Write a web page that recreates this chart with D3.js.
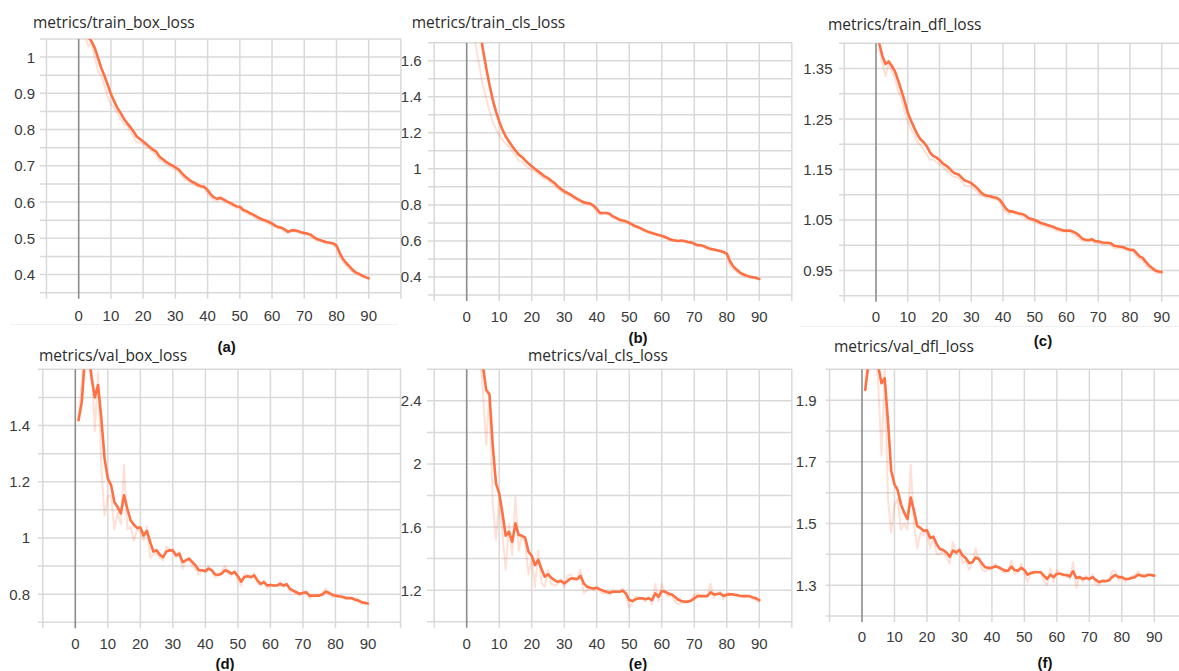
<!DOCTYPE html>
<html>
<head>
<meta charset="utf-8">
<script src="https://cdn.jsdelivr.net/npm/d3@7"></script>
<style>
  html, body { margin: 0; padding: 0; background: #fff; }
  svg { display: block; }
</style>
</head>
<body>
<svg id="chart" width="1179" height="671"></svg>
<script>
// ---------------- DATA (epochs 1..90) ----------------
const xTickLabels = [0, 10, 20, 30, 40, 50, 60, 70, 80, 90];

const trainBoxSmoothed = [1.20,1.10,1.055,1.043,1.025,0.997,0.970,0.948,0.924,0.898,0.878,0.860,0.846,0.830,0.818,0.807,0.795,0.781,0.774,0.767,0.760,0.752,0.745,0.740,0.726,0.719,0.712,0.706,0.701,0.696,0.690,0.680,0.671,0.664,0.657,0.653,0.647,0.644,0.642,0.633,0.621,0.613,0.609,0.612,0.607,0.602,0.598,0.593,0.588,0.587,0.579,0.575,0.570,0.566,0.561,0.556,0.552,0.549,0.545,0.541,0.535,0.531,0.529,0.524,0.518,0.522,0.522,0.520,0.517,0.515,0.513,0.510,0.503,0.498,0.495,0.492,0.489,0.488,0.486,0.480,0.460,0.443,0.432,0.423,0.413,0.406,0.402,0.397,0.393,0.390];
const trainBoxRaw = [1.15,1.06,1.03,1.04,1.00,0.96,0.95,0.92,0.89,0.87,0.86,0.845,0.83,0.815,0.81,0.795,0.78,0.765,0.765,0.76,0.752,0.745,0.738,0.73,0.715,0.712,0.705,0.70,0.695,0.69,0.682,0.672,0.662,0.658,0.652,0.648,0.642,0.64,0.638,0.625,0.612,0.606,0.604,0.61,0.602,0.597,0.592,0.588,0.584,0.582,0.574,0.57,0.566,0.561,0.556,0.551,0.548,0.545,0.541,0.536,0.53,0.528,0.525,0.519,0.513,0.52,0.519,0.516,0.514,0.512,0.51,0.505,0.498,0.494,0.492,0.489,0.486,0.486,0.483,0.474,0.448,0.435,0.425,0.415,0.407,0.402,0.398,0.394,0.391,0.388];

const trainClsSmoothed = [2.30,2.05,1.90,1.78,1.661,1.560,1.467,1.384,1.319,1.263,1.217,1.180,1.152,1.125,1.102,1.079,1.066,1.047,1.029,1.014,0.999,0.986,0.972,0.958,0.949,0.934,0.922,0.903,0.888,0.875,0.866,0.857,0.844,0.833,0.824,0.814,0.811,0.807,0.796,0.778,0.755,0.755,0.755,0.751,0.736,0.728,0.718,0.713,0.709,0.700,0.690,0.681,0.675,0.666,0.657,0.649,0.644,0.639,0.633,0.629,0.622,0.614,0.607,0.603,0.600,0.602,0.600,0.594,0.592,0.585,0.576,0.576,0.571,0.562,0.556,0.552,0.548,0.544,0.539,0.530,0.487,0.459,0.441,0.426,0.415,0.408,0.402,0.398,0.395,0.389];
const trainClsRaw = [1.95,1.78,1.66,1.56,1.46,1.39,1.32,1.26,1.22,1.19,1.16,1.14,1.12,1.10,1.075,1.045,1.04,1.02,1.005,0.995,0.985,0.972,0.958,0.944,0.938,0.92,0.905,0.888,0.876,0.864,0.857,0.848,0.834,0.825,0.815,0.806,0.806,0.802,0.788,0.762,0.745,0.752,0.752,0.744,0.728,0.72,0.711,0.707,0.703,0.693,0.683,0.674,0.669,0.659,0.65,0.644,0.64,0.634,0.628,0.624,0.616,0.607,0.602,0.599,0.597,0.6,0.596,0.59,0.587,0.578,0.572,0.573,0.566,0.556,0.551,0.548,0.544,0.54,0.534,0.52,0.46,0.442,0.428,0.416,0.408,0.403,0.398,0.395,0.392,0.387];

const trainDflSmoothed = [1.400,1.375,1.359,1.364,1.355,1.344,1.326,1.306,1.286,1.263,1.247,1.233,1.220,1.210,1.204,1.196,1.184,1.177,1.174,1.169,1.162,1.158,1.153,1.146,1.142,1.140,1.134,1.128,1.126,1.123,1.118,1.112,1.105,1.100,1.098,1.097,1.095,1.094,1.090,1.081,1.072,1.067,1.067,1.065,1.063,1.062,1.059,1.054,1.052,1.050,1.047,1.044,1.042,1.040,1.038,1.036,1.033,1.031,1.029,1.029,1.029,1.027,1.024,1.019,1.013,1.011,1.010,1.012,1.008,1.008,1.006,1.005,1.005,1.004,0.999,0.998,0.997,0.996,0.993,0.991,0.991,0.985,0.978,0.975,0.967,0.960,0.955,0.950,0.948,0.947];
const trainDflRaw = [1.39,1.36,1.335,1.36,1.345,1.33,1.305,1.29,1.265,1.245,1.23,1.22,1.205,1.198,1.19,1.18,1.17,1.17,1.165,1.16,1.155,1.15,1.143,1.137,1.135,1.133,1.127,1.118,1.117,1.117,1.11,1.105,1.098,1.096,1.094,1.093,1.092,1.09,1.085,1.072,1.064,1.062,1.064,1.062,1.06,1.058,1.054,1.05,1.048,1.046,1.043,1.04,1.038,1.036,1.034,1.032,1.029,1.027,1.027,1.027,1.027,1.023,1.019,1.013,1.008,1.008,1.007,1.01,1.004,1.005,1.003,1.002,1.002,1.001,0.994,0.995,0.994,0.993,0.99,0.988,0.989,0.978,0.972,0.97,0.96,0.954,0.951,0.946,0.945,0.944];

const valBoxSmoothed = [1.419,1.485,1.65,1.66,1.57,1.50,1.544,1.425,1.283,1.211,1.188,1.128,1.110,1.087,1.152,1.104,1.063,1.047,1.036,1.037,1.009,1.025,0.986,0.952,0.956,0.940,0.932,0.952,0.956,0.956,0.938,0.944,0.914,0.920,0.926,0.914,0.902,0.885,0.885,0.882,0.891,0.885,0.870,0.869,0.873,0.885,0.881,0.873,0.879,0.864,0.845,0.861,0.864,0.861,0.867,0.849,0.837,0.843,0.831,0.833,0.831,0.831,0.837,0.831,0.835,0.819,0.813,0.807,0.801,0.804,0.807,0.795,0.795,0.795,0.795,0.799,0.809,0.805,0.798,0.795,0.793,0.791,0.787,0.786,0.786,0.781,0.778,0.772,0.769,0.767];
const valBoxRaw = [1.42,1.55,1.75,1.70,1.62,1.38,1.59,1.25,1.08,1.15,1.15,1.03,1.09,1.05,1.26,1.03,1.04,0.99,1.03,1.02,0.99,1.04,0.93,0.94,0.95,0.93,0.92,0.97,0.96,0.95,0.93,0.95,0.89,0.92,0.93,0.90,0.89,0.87,0.885,0.88,0.90,0.88,0.86,0.865,0.88,0.90,0.875,0.865,0.885,0.85,0.83,0.87,0.87,0.855,0.875,0.84,0.83,0.85,0.82,0.835,0.83,0.83,0.845,0.825,0.84,0.81,0.81,0.80,0.795,0.81,0.81,0.785,0.795,0.795,0.795,0.805,0.82,0.80,0.79,0.79,0.79,0.79,0.783,0.785,0.786,0.776,0.775,0.765,0.767,0.765];

const valClsSmoothed = [3.40,3.20,3.00,2.80,2.62,2.469,2.441,2.12,1.877,1.813,1.687,1.545,1.570,1.507,1.623,1.549,1.545,1.532,1.444,1.418,1.359,1.391,1.334,1.285,1.300,1.279,1.264,1.253,1.258,1.243,1.258,1.274,1.274,1.270,1.291,1.243,1.222,1.215,1.211,1.215,1.205,1.196,1.190,1.184,1.190,1.190,1.190,1.196,1.179,1.137,1.131,1.143,1.148,1.148,1.143,1.148,1.137,1.179,1.158,1.194,1.190,1.179,1.173,1.158,1.141,1.131,1.127,1.127,1.133,1.148,1.162,1.162,1.162,1.162,1.186,1.173,1.175,1.179,1.164,1.171,1.173,1.173,1.169,1.164,1.162,1.162,1.162,1.154,1.148,1.137];
const valClsRaw = [3.3,3.1,2.9,2.7,2.45,2.12,2.42,1.75,1.52,1.78,1.55,1.33,1.62,1.42,1.79,1.45,1.55,1.50,1.30,1.40,1.22,1.45,1.25,1.22,1.33,1.24,1.23,1.24,1.27,1.22,1.29,1.30,1.26,1.27,1.33,1.18,1.20,1.21,1.20,1.22,1.19,1.18,1.18,1.17,1.20,1.19,1.19,1.21,1.16,1.09,1.12,1.16,1.15,1.15,1.13,1.16,1.11,1.24,1.13,1.24,1.18,1.16,1.17,1.13,1.11,1.12,1.12,1.13,1.14,1.17,1.18,1.16,1.16,1.16,1.24,1.15,1.18,1.19,1.14,1.18,1.18,1.17,1.16,1.16,1.16,1.16,1.16,1.14,1.14,1.12];

const valDflSmoothed = [1.933,2.02,2.10,2.08,2.01,1.955,1.971,1.831,1.670,1.627,1.608,1.562,1.535,1.514,1.584,1.541,1.492,1.485,1.476,1.478,1.453,1.457,1.433,1.417,1.414,1.406,1.392,1.412,1.406,1.414,1.396,1.387,1.372,1.374,1.390,1.385,1.369,1.358,1.356,1.356,1.361,1.358,1.353,1.347,1.347,1.360,1.349,1.347,1.356,1.349,1.334,1.339,1.342,1.342,1.342,1.331,1.320,1.334,1.326,1.337,1.337,1.334,1.333,1.328,1.345,1.323,1.326,1.320,1.323,1.320,1.326,1.317,1.310,1.313,1.313,1.315,1.326,1.333,1.326,1.326,1.320,1.320,1.323,1.326,1.334,1.331,1.329,1.333,1.333,1.331];
const valDflRaw = [1.93,2.1,2.2,2.1,1.95,1.72,2.0,1.58,1.47,1.56,1.58,1.48,1.50,1.48,1.69,1.50,1.42,1.47,1.46,1.48,1.42,1.46,1.40,1.40,1.41,1.39,1.37,1.44,1.40,1.42,1.37,1.38,1.35,1.375,1.42,1.38,1.35,1.345,1.35,1.355,1.37,1.355,1.345,1.34,1.345,1.38,1.335,1.345,1.37,1.34,1.31,1.345,1.345,1.342,1.342,1.315,1.30,1.355,1.31,1.35,1.337,1.33,1.33,1.32,1.375,1.29,1.33,1.31,1.33,1.315,1.335,1.305,1.30,1.318,1.313,1.318,1.345,1.345,1.315,1.326,1.31,1.32,1.328,1.33,1.345,1.327,1.327,1.338,1.333,1.328];

const trainBoxYTicks = [0.4, 0.5, 0.6, 0.7, 0.8, 0.9, 1];
const trainClsYTicks = [0.4, 0.6, 0.8, 1, 1.2, 1.4, 1.6];
const trainDflYTicks = [0.95, 1.05, 1.15, 1.25, 1.35];
const valBoxYTicks = [0.8, 1, 1.2, 1.4];
const valClsYTicks = [1.2, 1.6, 2, 2.4];
const valDflYTicks = [1.3, 1.5, 1.7, 1.9];

// ---------------- LAYOUT ----------------
const panels = [
  { title: "metrics/train_box_loss", smooth: trainBoxSmoothed, raw: trainBoxRaw, yTicks: trainBoxYTicks,
    yDom: [0.35, 1.05], gridStep: 0.05, left: 40, right: 401, top: 39, bottom: 292.7, x0: 78.7, x90: 368.7,
    labelRight: 35, xLabelY: 315, titleX: 33, titleY: 22 },
  { title: "metrics/train_cls_loss", smooth: trainClsSmoothed, raw: trainClsRaw, yTicks: trainClsYTicks,
    yDom: [0.3, 1.7], gridStep: 0.1, left: 428, right: 792, top: 42.7, bottom: 295, x0: 466.7, x90: 759.3,
    labelRight: 421.7, xLabelY: 316.7, titleX: 411.7, titleY: 21.7 },
  { title: "metrics/train_dfl_loss", smooth: trainDflSmoothed, raw: trainDflRaw, yTicks: trainDflYTicks,
    yDom: [0.9, 1.4], gridStep: 0.05, left: 839, right: 1179, top: 43.3, bottom: 295.7, x0: 876, x90: 1161.7,
    labelRight: 832.5, xLabelY: 316.7, titleX: 828, titleY: 24 },
  { title: "metrics/val_box_loss", smooth: valBoxSmoothed, raw: valBoxRaw, yTicks: valBoxYTicks,
    yDom: [0.7, 1.6], gridStep: 0.1, left: 38, right: 401, top: 369.3, bottom: 622.3, x0: 75.3, x90: 368,
    labelRight: 30, xLabelY: 643.3, titleX: 39, titleY: 355 },
  { title: "metrics/val_cls_loss", smooth: valClsSmoothed, raw: valClsRaw, yTicks: valClsYTicks,
    yDom: [1.0, 2.6], gridStep: 0.2, left: 427, right: 792, top: 369.3, bottom: 621.7, x0: 466.7, x90: 759.3,
    labelRight: 421.7, xLabelY: 643.3, titleX: 528, titleY: 355 },
  { title: "metrics/val_dfl_loss", smooth: valDflSmoothed, raw: valDflRaw, yTicks: valDflYTicks,
    yDom: [1.2, 2.0], gridStep: 0.1, left: 826, right: 1179, top: 369.3, bottom: 616, x0: 862, x90: 1154.3,
    labelRight: 816.7, xLabelY: 636.7, titleX: 834, titleY: 346 }
];

const subLabels = [
  { text: "(a)", x: 226.7, y: 346 },
  { text: "(b)", x: 638, y: 337 },
  { text: "(c)", x: 1043, y: 340 },
  { text: "(d)", x: 225, y: 663 },
  { text: "(e)", x: 638, y: 663 },
  { text: "(f)", x: 1045, y: 662 }
];

const LINE = "#ff7043";
const GRID = "#d9d9d9";
const svg = d3.select("#chart");

// faint screenshot separators
svg.append("line").attr("x1", 10).attr("x2", 398).attr("y1", 324.5).attr("y2", 324.5).attr("stroke", "#efefef");
svg.append("line").attr("x1", 800).attr("x2", 1179).attr("y1", 326.5).attr("y2", 326.5).attr("stroke", "#efefef");

const fmt = v => String(+v.toFixed(2));

panels.forEach((p, i) => {
  const g = svg.append("g");
  const x = d3.scaleLinear().domain([0, 90]).range([p.x0, p.x90]);
  const y = d3.scaleLinear().domain(p.yDom).range([p.bottom, p.top]);

  // horizontal grid
  const nH = Math.round((p.yDom[1] - p.yDom[0]) / p.gridStep);
  const hVals = d3.range(nH + 1).map(k => +(p.yDom[0] + k * p.gridStep).toFixed(3));
  g.append("g").selectAll("line").data(hVals).join("line")
    .attr("x1", p.left).attr("x2", p.right)
    .attr("y1", d => y(d)).attr("y2", d => y(d))
    .attr("stroke", GRID).attr("stroke-width", 1.5);

  // vertical grid (-10 .. 100)
  const vVals = [-10, 0, 10, 20, 30, 40, 50, 60, 70, 80, 90, 100].filter(v => x(v) <= p.right + 1.5 && x(v) >= p.left);
  g.append("g").selectAll("line").data(vVals.filter(v => v !== 0)).join("line")
    .attr("x1", d => x(d)).attr("x2", d => x(d))
    .attr("y1", p.top).attr("y2", p.bottom + 6)
    .attr("stroke", GRID).attr("stroke-width", 1.5);
  // zero axis
  g.append("line").attr("x1", x(0)).attr("x2", x(0)).attr("y1", p.top).attr("y2", p.bottom + 6)
    .attr("stroke", "#8c8c8c").attr("stroke-width", 1.6);

  // y tick labels
  g.append("g").selectAll("text").data(p.yTicks).join("text")
    .attr("x", p.labelRight).attr("y", d => y(d))
    .attr("text-anchor", "end").attr("dominant-baseline", "central")
    .attr("font-family", "Liberation Sans, Arial, sans-serif").attr("font-size", 15)
    .attr("fill", "#3a3a3a").text(d => fmt(d));

  // x tick labels
  g.append("g").selectAll("text").data(xTickLabels).join("text")
    .attr("x", d => x(d)).attr("y", p.xLabelY)
    .attr("text-anchor", "middle").attr("dominant-baseline", "central")
    .attr("font-family", "Liberation Sans, Arial, sans-serif").attr("font-size", 15)
    .attr("fill", "#3a3a3a").text(d => d);

  // title
  g.append("text").attr("x", p.titleX).attr("y", p.titleY)
    .attr("dominant-baseline", "central")
    .attr("font-family", "Open Sans, sans-serif").attr("font-size", 15.5)
    .attr("fill", "#2a2a2a").text(p.title);

  // clip
  const cid = "clip" + i;
  svg.append("clipPath").attr("id", cid).append("rect")
    .attr("x", p.left).attr("y", p.top).attr("width", p.right - p.left).attr("height", p.bottom - p.top);

  const line = d3.line().x((d, k) => x(k + 1)).y(d => y(d));
  const lg = g.append("g").attr("clip-path", `url(#${cid})`);
  lg.append("path").datum(p.raw).attr("d", line)
    .attr("fill", "none").attr("stroke", LINE).attr("stroke-opacity", 0.22)
    .attr("stroke-width", 2).attr("stroke-linejoin", "round");
  lg.append("path").datum(p.smooth).attr("d", line)
    .attr("fill", "none").attr("stroke", LINE)
    .attr("stroke-width", 2.6).attr("stroke-linejoin", "round").attr("stroke-linecap", "round");
});

svg.append("g").selectAll("text").data(subLabels).join("text")
  .attr("x", d => d.x).attr("y", d => d.y)
  .attr("text-anchor", "middle").attr("dominant-baseline", "central")
  .attr("font-family", "Liberation Sans, Arial, sans-serif").attr("font-weight", "bold").attr("font-size", 15)
  .attr("fill", "#111").text(d => d.text);
</script>
</body>
</html>
